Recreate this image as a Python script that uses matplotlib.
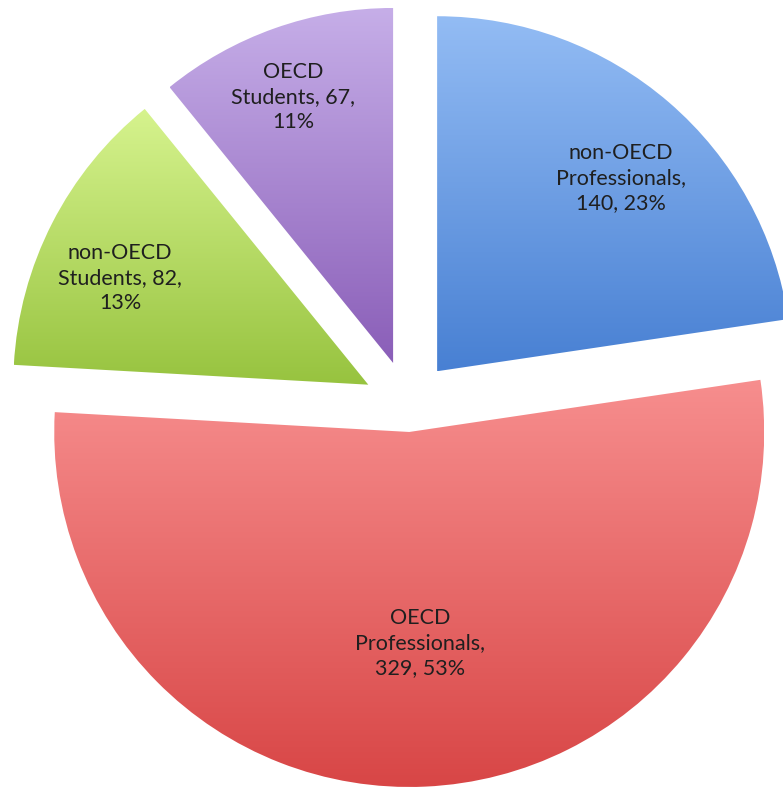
import textwrap
import numpy as np
import matplotlib
matplotlib.use("Agg")
import matplotlib.pyplot as plt
from matplotlib.colors import to_rgb

# ---- data ----
categories = ["non-OECD Professionals", "OECD Professionals",
              "non-OECD Students", "OECD Students"]
values = [140, 329, 82, 67]

# ---- style ----
top_colors = ["#93bcf4", "#f78e8e", "#d6f38e", "#c6aee8"]
bottom_colors = ["#4880d3", "#d84646", "#97c33f", "#8a5eb8"]
RADIUS = 355
explode = [44.6, 27.0, 44.6, 44.6]   # offsets in data units (pixels)
label_pos = [(621, 612), (420, 147), (120, 512), (293, 693)]  # data coords (y up)

W, H = 783, 790
fig = plt.figure(figsize=(W / 100, H / 100), dpi=100)
ax = fig.add_axes([0, 0, 1, 1])
ax.set_xlim(0, W)
ax.set_ylim(0, H)
ax.set_aspect("equal")
ax.axis("off")

wedges, _ = ax.pie(values, startangle=90, counterclock=False,
                   explode=explode, radius=RADIUS, center=(408, 385),
                   wedgeprops=dict(linewidth=0))
ax.set_xlim(0, W)
ax.set_ylim(0, H)

for w, ct, cb in zip(wedges, top_colors, bottom_colors):
    w.set_facecolor("none")
    ext = w.get_path().get_extents()
    n = 256
    t = np.linspace(0, 1, n)[:, None]
    c1 = np.array(to_rgb(ct))
    c2 = np.array(to_rgb(cb))
    grad = (c1[None, :] * (1 - t) + c2[None, :] * t)[:, None, :]
    im = ax.imshow(grad, extent=[ext.x0, ext.x1, ext.y0, ext.y1],
                   origin="upper", aspect="auto", interpolation="bilinear",
                   zorder=1)
    im.set_clip_path(w)

total = sum(values)
for name, v, (lx, ly) in zip(categories, values, label_pos):
    pct = round(100 * v / total)
    txt = textwrap.fill(f"{name}, {v}, {pct}%", width=13,
                        break_long_words=False)
    ax.text(lx, ly, txt, ha="center", va="center", fontsize=15.5,
            family=["Lato", "DejaVu Sans"], color="#1f1f1f",
            linespacing=1.33, zorder=3)

ax.set_xlim(0, W)
ax.set_ylim(0, H)
fig.savefig("out.png", dpi=100, facecolor="white")
